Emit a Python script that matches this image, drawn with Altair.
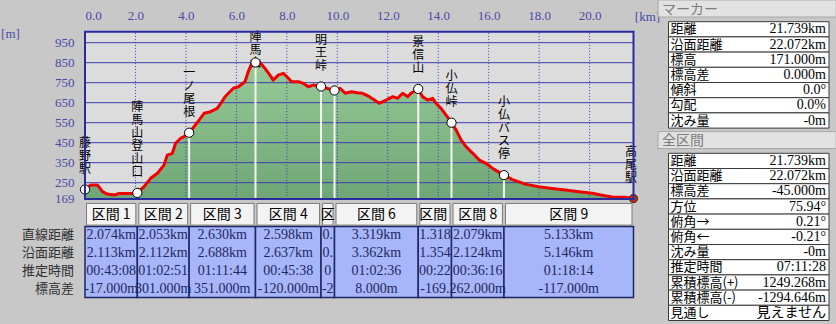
import altair as alt
import pandas as pd

# ---------------- data ----------------
prof_km = [0.00, 0.23, 0.49, 0.69, 0.88, 1.15, 1.35, 1.61, 1.87, 2.074, 2.34, 2.60, 2.87, 3.13, 3.26, 3.46,
           3.59, 3.79, 3.92, 4.127, 4.32, 4.52, 4.72, 4.98, 5.24, 5.40, 5.55, 5.88, 6.08, 6.34, 6.47, 6.61,
           6.70, 6.757, 6.85, 6.94, 7.13, 7.33, 7.46, 7.66, 7.86, 8.06, 8.19, 8.46, 8.65, 8.85, 9.05, 9.355,
           9.58, 9.889, 10.11, 10.31, 10.57, 10.78, 11.00, 11.27, 11.47, 11.66, 11.93, 12.20, 12.39, 12.59,
           12.79, 12.92, 13.208, 13.38, 13.58, 13.78, 13.91, 14.11, 14.31, 14.526, 14.71, 14.91, 15.10, 15.37,
           15.63, 15.89, 16.20, 16.605, 16.92, 17.45, 17.98, 18.51, 19.04, 19.57, 20.10, 20.60, 20.90, 21.40,
           21.739]
prof_el = [216, 239, 239, 205, 193, 188, 196, 196, 196, 199, 230, 272, 297, 338, 388, 397,
           447, 472, 480, 500, 530, 563, 597, 605, 622, 650, 680, 722, 730, 755, 805, 847,
           858, 851, 856, 850, 822, 788, 763, 788, 797, 772, 755, 755, 747, 730, 738, 731,
           722, 711, 722, 697, 705, 700, 697, 680, 663, 647, 663, 680, 672, 697,
           680, 697, 719, 680, 663, 672, 647, 622, 588, 550, 513, 463, 430, 397,
           363, 347, 318, 288, 267, 243, 230, 221, 213, 205, 197, 185, 179, 177,
           171]

marker_km = [0.0, 2.074, 4.127, 6.757, 9.355, 9.889, 13.208, 14.526, 16.605, 21.739]
marker_el = [216, 199, 500, 851, 731, 711, 719, 550, 288, 171]
marker_names = ["藤野駅", "陣馬山登山口", "一ノ尾根", "陣馬山", "明王峠", "", "景信山", "小仏峠", "小仏バス停", "高尾駅"]

x_ticks = [0, 2, 4, 6, 8, 10, 12, 14, 16, 18, 20]
y_ticks = [169, 250, 350, 450, 550, 650, 750, 850, 950]
x_grid = [2, 4, 6, 8, 10, 12, 14, 16, 18, 20]
y_grid = [250, 350, 450, 550, 650, 750, 850, 950]

sections = ["区間 1", "区間 2", "区間 3", "区間 4", "区間 5", "区間 6", "区間 7", "区間 8", "区間 9"]
row_names = ["直線距離", "沿面距離", "推定時間", "標高差"]
straight = ["2.074km", "2.053km", "2.630km", "2.598km", "0.534km", "3.319km", "1.318km", "2.079km", "5.133km"]
surface = ["2.113km", "2.112km", "2.688km", "2.637km", "0.537km", "3.362km", "1.354km", "2.124km", "5.146km"]
times = ["00:43:08", "01:02:51", "01:11:44", "00:45:38", "00:08:06", "01:02:36", "00:22:55", "00:36:16", "01:18:14"]
diffs = ["-17.000m", "301.000m", "351.000m", "-120.000m", "-20.000m", "8.000m", "-169.000m", "262.000m", "-117.000m"]

marker_labels = ["距離", "沿面距離", "標高", "標高差", "傾斜", "勾配", "沈み量"]
marker_values = ["21.739km", "22.072km", "171.000m", "0.000m", "0.0°", "0.0%", "-0m"]
total_labels = ["距離", "沿面距離", "標高差", "方位", "俯角→", "俯角←", "沈み量", "推定時間", "累積標高(+)", "累積標高(-)", "見通し"]
total_values = ["21.739km", "22.072km", "-45.000m", "75.94°", "0.21°", "-0.21°", "-0m", "07:11:28", "1249.268m", "-1294.646m", "見えません"]

# ---------------- scales ----------------
KM_END = marker_km[-1]
Y_MIN, Y_MAX = 169, 1005
PX0, PX1 = 85, 633.5
PY0, PY1 = 198.9, 31.7

XS = alt.Scale(domain=[0, KM_END], range=[PX0, PX1], nice=False, zero=False)
YS = alt.Scale(domain=[Y_MIN, Y_MAX], range=[PY0, PY1], nice=False, zero=False)
TY = alt.Scale(domain=[0, 4], range=[226.5, 297.5], nice=False, zero=False)
XR = alt.Scale(domain=[0, 1], range=[668.5, 829], nice=False, zero=False)
YM = alt.Scale(domain=[0, 7], range=[21.7, 128.1], nice=False, zero=False)
YT = alt.Scale(domain=[0, 11], range=[153.3, 320.5], nice=False, zero=False)

SERIF = "Liberation Serif, Noto Sans CJK JP"
CJK = "Noto Sans CJK JP"
AXIS_BLUE = "#4a4aa6"
GRID_BLUE = "#3c3cae"
NAVY = "#1f2763"
ZW = "\u200b"


def X(f, s, axis=None):
    return alt.X(f, type="quantitative", scale=s, axis=axis)


def Y(f, s, axis=None):
    return alt.Y(f, type="quantitative", scale=s, axis=axis)


# ---------------- profile ----------------
prof = pd.DataFrame({"km": prof_km, "el": prof_el})
prof["base"] = Y_MIN
box = pd.DataFrame({"x0": [0.0], "x1": [KM_END], "y0": [Y_MIN], "y1": [Y_MAX]})
hg = pd.DataFrame({"el": y_grid})
hg["x0"], hg["x1"] = 0.0, KM_END
vg = pd.DataFrame({"km": x_grid})
vg["y0"], vg["y1"] = Y_MIN, Y_MAX
mk = pd.DataFrame({"km": marker_km, "el": marker_el, "name": marker_names})
mk["base"] = Y_MIN


def ypx(e):
    return PY0 + (e - Y_MIN) * (PY1 - PY0) / (Y_MAX - Y_MIN)


def epx(y):
    return Y_MIN + (y - PY0) * (Y_MAX - Y_MIN) / (PY1 - PY0)


lab_rows = []
for km, el, nm in zip(marker_km, marker_el, marker_names):
    if not nm:
        continue
    n = len(nm)
    first = max(ypx(el) - 21 - (n - 1) * 13, 37)
    lab_rows.append({"lk": min(km, KM_END - 0.1), "le": epx(first - 5), "txt": "\n".join(nm)})
labs = pd.DataFrame(lab_rows)

xaxis = alt.Axis(orient="top", offset=-31, values=x_ticks, format=".1f", domain=False, ticks=False,
                 grid=False, labelFont=SERIF, labelFontSize=13, labelColor=AXIS_BLUE, labelPadding=9,
                 labelFlush=True, title="[km]", titleX=647, titleY=-15, titleAngle=0,
                 titleBaseline="middle", titleAlign="center", titleFont=SERIF, titleFontSize=13,
                 titleFontWeight="normal", titleColor=AXIS_BLUE)
yaxis = alt.Axis(orient="left", offset=-85, values=y_ticks, format="d", domain=False, ticks=False,
                 grid=False, labelFont=SERIF, labelFontSize=13, labelColor=AXIS_BLUE, labelPadding=11,
                 title="[m]", titleX=-75, titleY=33, titleAngle=0, titleBaseline="middle",
                 titleAlign="center", titleFont=SERIF, titleFontSize=13, titleFontWeight="normal",
                 titleColor=AXIS_BLUE)

layers = []
layers.append(alt.Chart(box).mark_rect(fill="#dcdcdc").encode(
    x=X("x0", XS, xaxis), x2="x1:Q", y=Y("y0", YS, yaxis), y2="y1:Q"))

grad = alt.LinearGradient(gradient="linear",
                          stops=[alt.GradientStop(color="#98cb98", offset=0),
                                 alt.GradientStop(color="#6fa676", offset=1)],
                          x1=1, x2=1, y1=0, y2=1)
layers.append(alt.Chart(prof).mark_area(color=grad).encode(
    x=X("km", XS), y=Y("el", YS), y2="base:Q"))
layers.append(alt.Chart(hg).mark_rule(color=GRID_BLUE, strokeWidth=1).encode(
    x=X("x0", XS), x2="x1:Q", y=Y("el", YS)))
layers.append(alt.Chart(vg).mark_rule(color=GRID_BLUE, strokeWidth=1, strokeDash=[1, 2]).encode(
    x=X("km", XS), y=Y("y0", YS), y2="y1:Q"))
layers.append(alt.Chart(mk).mark_rule(color="#f4f4f4", strokeWidth=2).encode(
    x=X("km", XS), y=Y("el", YS), y2="base:Q"))
layers.append(alt.Chart(labs).mark_text(font=CJK, fontSize=12, lineBreak="\n", lineHeight=13,
                                        baseline="top", align="center", color="black").encode(
    x=X("lk", XS), y=Y("le", YS), text="txt:N"))
layers.append(alt.Chart(prof).mark_line(color="#f00000", strokeWidth=3, strokeJoin="round").encode(
    x=X("km", XS), y=Y("el", YS)))
layers.append(alt.Chart(mk.iloc[:-1]).mark_point(filled=True, fill="white", stroke="black",
                                                 strokeWidth=1, size=85, opacity=1).encode(
    x=X("km", XS), y=Y("el", YS)))
layers.append(alt.Chart(mk.iloc[-1:]).mark_point(filled=True, fill="#a83222", stroke="#5a2a10",
                                                 strokeWidth=1, size=70, opacity=1).encode(
    x=X("km", XS), y=Y("el", YS)))
layers.append(alt.Chart(box).mark_rect(fillOpacity=0, stroke="#2a2aa0", strokeWidth=2).encode(
    x=X("x0", XS), x2="x1:Q", y=Y("y0", YS), y2="y1:Q"))

# ---------------- section table ----------------
ppk = (PX1 - PX0) / KM_END
sec = pd.DataFrame({"name": sections, "km0": marker_km[:-1], "km1": marker_km[1:]})
sec["mid"] = (sec["km0"] + sec["km1"]) / 2
sec["wpx"] = (sec["km1"] - sec["km0"]) * ppk
sec["top"], sec["bot"] = 0.0, 4.0
sec["htop"], sec["hbot"], sec["hy"] = -1.3, -0.08, -0.65

layers.append(alt.Chart(sec).mark_rect(fill="#a6b6f8", stroke=NAVY, strokeWidth=1.5).encode(
    x=X("km0", XS), x2="km1:Q", y=Y("top", TY), y2="bot:Q"))
layers.append(alt.Chart(sec).mark_rect(fill="#f3f3f3", stroke="#7a7a7a", strokeWidth=1,
                                       xOffset=1.5, x2Offset=-1.5).encode(
    x=X("km0", XS), x2="km1:Q", y=Y("htop", TY), y2="hbot:Q"))

cells = []
for i in range(len(sections)):
    for r, vals in enumerate([straight, surface, times, diffs]):
        cells.append({"i": i, "mid": sec["mid"][i], "wpx": sec["wpx"][i], "y": r + 0.5, "t": vals[i]})
cells = pd.DataFrame(cells)

wide = sec["wpx"] >= 45
layers.append(alt.Chart(sec[wide]).mark_text(font=CJK, fontSize=14, color="black", baseline="middle").encode(
    x=X("mid", XS), y=Y("hy", TY), text="name:N"))
layers.append(alt.Chart(cells[cells["wpx"] >= 45]).mark_text(font=SERIF, fontSize=14, color=NAVY,
                                                             baseline="middle").encode(
    x=X("mid", XS), y=Y("y", TY), text="t:N"))
for i in sec.index[~wide]:
    lim = float(sec["wpx"][i]) - 1
    layers.append(alt.Chart(sec.loc[[i]]).mark_text(font=CJK, fontSize=14, color="black", baseline="middle",
                                                    limit=max(lim, 15), ellipsis=ZW).encode(
        x=X("mid", XS), y=Y("hy", TY), text="name:N"))
    layers.append(alt.Chart(cells[cells["i"] == i]).mark_text(font=SERIF, fontSize=14, color=NAVY,
                                                              baseline="middle", limit=lim, ellipsis=ZW).encode(
        x=X("mid", XS), y=Y("y", TY), text="t:N"))

rl = pd.DataFrame({"t": row_names, "y": [r + 0.5 for r in range(len(row_names))]})
rl["x"] = marker_km[0]
layers.append(alt.Chart(rl).mark_text(font=CJK, fontSize=13, color="#303030", align="right",
                                      baseline="middle", dx=-11).encode(
    x=X("x", XS), y=Y("y", TY), text="t:N"))


# ---------------- right panels ----------------
def panel(title, labels, values, ys):
    out = []
    hd = pd.DataFrame({"t": [title], "x0": [-0.065], "x1": [1.045], "y0": [-1.43], "y1": [-0.31], "yc": [-0.8]})
    out.append(alt.Chart(hd).mark_rect(fill="#e2e2e2", stroke="#a8a8a8", strokeWidth=1).encode(
        x=X("x0", XR), x2="x1:Q", y=Y("y0", ys), y2="y1:Q"))
    out.append(alt.Chart(hd).mark_text(font=CJK, fontSize=14, color="#7c7c7c", align="left",
                                       baseline="middle", dx=4).encode(
        x=X("x0", XR), y=Y("yc", ys), text="t:N"))
    df = pd.DataFrame({"lab": labels, "val": values})
    df["r0"] = range(len(labels))
    df["r1"] = df["r0"] + 1
    df["rc"] = df["r0"] + 0.5
    df["x0"], df["x1"] = 0.0, 1.0
    out.append(alt.Chart(df).mark_rect(fill="white", stroke="#3a3a3a", strokeWidth=1).encode(
        x=X("x0", XR), x2="x1:Q", y=Y("r0", ys), y2="r1:Q"))
    out.append(alt.Chart(df).mark_text(font=CJK, fontSize=13, color="black", align="left",
                                       baseline="middle", dx=2).encode(
        x=X("x0", XR), y=Y("rc", ys), text="lab:N"))
    out.append(alt.Chart(df).mark_text(font=SERIF, fontSize=14, color="black", align="right",
                                       baseline="middle", dx=-3).encode(
        x=X("x1", XR), y=Y("rc", ys), text="val:N"))
    return out


layers += panel("マーカー", marker_labels, marker_values, YM)
layers += panel("全区間", total_labels, total_values, YT)

chart = alt.layer(*layers).resolve_scale(x="independent", y="independent").properties(
    width=836, height=324, padding=0, autosize="none", background="#c8c8c8"
).configure_view(stroke=None)

chart.save("out.html", embed_options={"renderer": "svg", "actions": False})
